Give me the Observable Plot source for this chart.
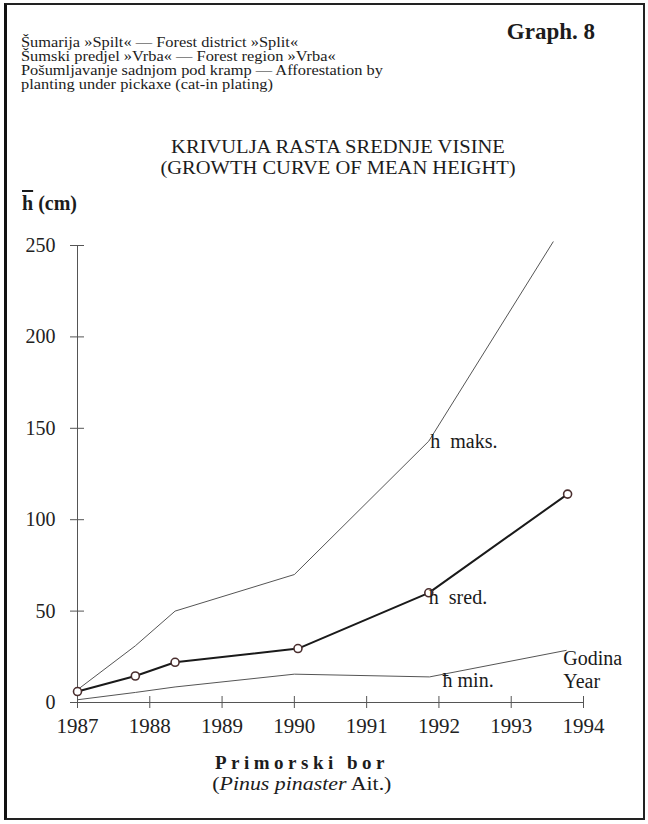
<!DOCTYPE html>
<html>
<head>
<meta charset="utf-8">
<script src="https://cdn.jsdelivr.net/npm/d3@7"></script>
<script src="https://cdn.jsdelivr.net/npm/@observablehq/plot@0.6"></script>
<style>
  body { margin: 0; background: #fff; }
  #page { position: relative; width: 648px; height: 824px; overflow: hidden;
          font-family: "Liberation Serif", "Times New Roman", serif; color: #1c1c1c; }
  #frame { position: absolute; left: 4px; top: 3px; width: 641px; height: 817px;
           border: 2px solid #222; border-left: 3px solid #111; box-sizing: border-box; }
  #chart { position: absolute; left: 0; top: 0; }
  .abs { position: absolute; white-space: nowrap; }
  #graphno { right: 53px; top: 19px; font-size: 23px; font-weight: bold; }
  #header { left: 21px; top: 36px; font-size: 14px; line-height: 14px; transform: scaleX(1.17); transform-origin: left top; }
  #title { left: 0; width: 676px; top: 136px; text-align: center; font-size: 19px; line-height: 21px; transform: scaleX(1.08); transform-origin: 338px 0; }
  #ylab { left: 22px; top: 192px; font-size: 20px; font-weight: bold; }
  #ylab .bar { text-decoration: overline; }
  #caption { left: 0; width: 604px; top: 752px; text-align: center; font-size: 19px; line-height: 21px; }
  #caption b { letter-spacing: 4.5px; font-size: 19px; }
  #caption .sp { display: inline-block; transform: scaleX(1.15); }
</style>
</head>
<body>
<div id="page">
  <div id="frame"></div>
  <div id="chart"></div>
  <div class="abs" id="graphno">Graph. 8</div>
  <div class="abs" id="header">
    Šumarija »Spilt« — Forest district »Split«<br>
    Šumski predjel »Vrba« — Forest region »Vrba«<br>
    Pošumljavanje sadnjom pod kramp — Afforestation by<br>
    planting under pickaxe (cat-in plating)
  </div>
  <div class="abs" id="title">KRIVULJA RASTA SREDNJE VISINE<br>(GROWTH CURVE OF MEAN HEIGHT)</div>
  <div class="abs" id="ylab"><span class="bar">h</span> (cm)</div>
  <div class="abs" id="caption"><b>Primorski bor</b><br><span class="sp">(<i>Pinus pinaster</i> Ait.)</span></div>
</div>
<script>
// Tick labels
const yearTicks = [1987, 1988, 1989, 1990, 1991, 1992, 1993, 1994];
const heightTicks = [0, 50, 100, 150, 200, 250];

// h maks. (maximum height, cm)
const maxYears = [1987, 1987.8, 1988.35, 1990, 1991.86, 1993.58];
const maxHeights = [7, 31, 50, 70, 143, 252];

// h sred. (mean height, cm) - measured points
const meanYears = [1987, 1987.8, 1988.35, 1990.05, 1991.86, 1993.78];
const meanHeights = [6, 14.5, 22, 29.5, 60, 114];

// h min. (minimum height, cm)
const minYears = [1987, 1987.8, 1988.35, 1990, 1991.87, 1993.76];
const minHeights = [1.5, 5.5, 8.5, 15.5, 14, 28.5];

// curve labels
const curveLabels = ["h  maks.", "h  sred.", "ħ min."];
const curveLabelYears = [1991.88, 1991.86, 1992.05];
const curveLabelHeights = [143, 57.5, 12];

const zip = (xs, ys) => xs.map((x, i) => ({x, y: ys[i]}));
const maxData = zip(maxYears, maxHeights);
const meanData = zip(meanYears, meanHeights);
const minData = zip(minYears, minHeights);
const labelData = curveLabels.map((t, i) => ({t, x: curveLabelYears[i], y: curveLabelHeights[i]}));

const chart = Plot.plot({
  width: 648,
  height: 824,
  marginLeft: 77,
  marginRight: 65,
  marginTop: 245,
  marginBottom: 122,
  x: {domain: [1987, 1994]},
  y: {domain: [0, 250]},
  style: {fontFamily: "'Liberation Serif', 'Times New Roman', serif", fontSize: "20px", color: "#222", background: "transparent", overflow: "visible"},
  marks: [
    Plot.ruleX([1987], {y1: 0, y2: 250, stroke: "#555", strokeWidth: 1}),
    Plot.ruleY([0], {x1: 1987, x2: 1994, stroke: "#555", strokeWidth: 1}),
    Plot.axisY({ticks: heightTicks, tickSize: 14, dx: 7, tickPadding: 15, label: null, fontSize: 20, stroke: "#555", strokeOpacity: 1}),
    Plot.axisX({ticks: yearTicks, tickSize: 12, dy: -6, tickPadding: 10, tickFormat: d => String(d), label: null, fontSize: 21, stroke: "#555", strokeOpacity: 1}),
    Plot.line(maxData, {x: "x", y: "y", stroke: "#555", strokeWidth: 1}),
    Plot.line(minData, {x: "x", y: "y", stroke: "#555", strokeWidth: 1}),
    Plot.line(meanData, {x: "x", y: "y", stroke: "#1a1a1a", strokeWidth: 2}),
    Plot.dot(meanData, {x: "x", y: "y", r: 4, fill: "white", stroke: "#4a2e2e", strokeWidth: 1.6}),
    Plot.text(labelData, {x: "x", y: "y", text: "t", textAnchor: "start", fontSize: 20, fill: "#1a1a1a"}),
    Plot.text(["Godina\nYear"], {x: 1993.72, y: 18.4, textAnchor: "start", lineHeight: 1.15, fontSize: 20, fill: "#1a1a1a"})
  ]
});
document.getElementById("chart").appendChild(chart);
</script>
</body>
</html>
